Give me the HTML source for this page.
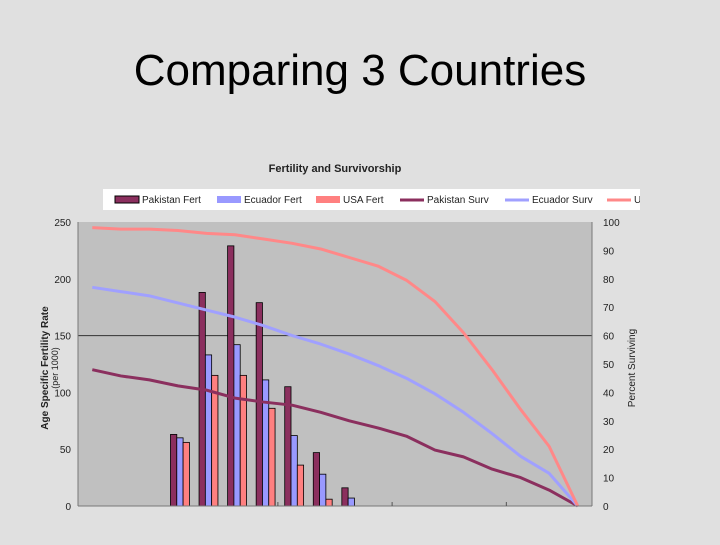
<!DOCTYPE html>
<html><head><meta charset="utf-8"><style>
body{margin:0;background:#e0e0e0;width:720px;height:540px;overflow:hidden;font-family:"Liberation Sans",sans-serif}
</style></head><body>
<svg width="720" height="540" xmlns="http://www.w3.org/2000/svg">
<rect width="720" height="540" fill="#e0e0e0"/>
<text x="360" y="85" font-size="44" text-anchor="middle" fill="#000">Comparing 3 Countries</text>
<text x="335" y="172" font-size="11" font-weight="bold" text-anchor="middle" fill="#222">Fertility and Survivorship</text>
<g id="legend"></g>
<rect x="78" y="222" width="514" height="284" fill="#c0c0c0"/>
<g id="grid"></g><g id="bars"></g><g id="lines"></g><g id="axes"></g>
<text transform="translate(48,368) rotate(-90)" font-size="10" font-weight="bold" text-anchor="middle" fill="#222">Age Specific Fertility Rate</text>
<text transform="translate(58,368) rotate(-90)" font-size="9" text-anchor="middle" fill="#222">(per 1000)</text>
<text transform="translate(635,368) rotate(-90)" font-size="10" text-anchor="middle" fill="#222">Percent Surviving</text>
</svg>
<script>
const nCats = 18;
const pakFert = [0,0,0,63,188,229,179,105,47,16,0,0,0,0,0,0,0,0];
const ecuFert = [0,0,0,60,133,142,111,62,28,7,0,0,0,0,0,0,0,0];
const usaFert = [0,0,0,56,115,115,86,36,6,0,0,0,0,0,0,0,0,0];
const pakSurv = [48,45.8,44.4,42.3,40.8,38,36.6,35.5,33,30,27.5,24.6,19.7,17.3,13,10,5.6,0];
const ecuSurv = [77,75.5,74,71.5,69,66.5,63.5,60,57,53.5,49.5,45,39.5,33,25.5,17.5,11.5,0];
const usaSurv = [98,97.5,97.5,97,96,95.5,94,92.5,90.5,87.5,84.5,79.5,72,61,48,34,21,0];
const leftTicks = [0,50,100,150,200,250];
const rightTicks = [0,10,20,30,40,50,60,70,80,90,100];
const legendLabels = ["Pakistan Fert","Ecuador Fert","USA Fert","Pakistan Surv","Ecuador Surv","USA Surv"];

const NS="http://www.w3.org/2000/svg";
const X0=78,X1=592,Y0=506,Y1=222;
const cw=(X1-X0)/nCats;
const xc=i=>X0+cw*(i+0.5);
const yL=v=>Y0-(v/250)*(Y0-Y1);
const yR=v=>Y0-(v/100)*(Y0-Y1);
function mk(tag,attrs,parent){const e=document.createElementNS(NS,tag);for(const k in attrs)e.setAttribute(k,attrs[k]);document.getElementById(parent).appendChild(e);return e;}
const cols=["#8b2f5e","#9999ff","#ff8080"];
const lcols=["#8b2f5e","#a0a0ff","#f88"];

let g=mk('line',{x1:X0,x2:X1,y1:yL(150),y2:yL(150),stroke:'#333','stroke-width':1},'grid');



const bw=6.3;
[pakFert,ecuFert,usaFert].forEach((arr,s)=>{
  arr.forEach((v,i)=>{
    if(v<=0)return;
    const x=xc(i)-bw*1.5+s*bw+2;
    const r=mk('rect',{x:x,y:yL(v),width:bw,height:Y0-yL(v),fill:cols[s],stroke:'#000','stroke-width':0.8},'bars');
    
    
  });
});
[pakSurv,ecuSurv,usaSurv].forEach((arr,s)=>{
  const p=mk('polyline',{points:arr.map((v,i)=>xc(i)+','+yR(v)).join(' '),fill:'none',stroke:lcols[s],'stroke-width':3,'stroke-linejoin':'round'},'lines');
  
  
});
mk('line',{x1:X0,x2:X0,y1:Y1,y2:Y0,stroke:'#777'},'axes');
mk('line',{x1:X1,x2:X1,y1:Y1,y2:Y0,stroke:'#777'},'axes');
mk('line',{x1:X0,x2:X1,y1:Y0,y2:Y0,stroke:'#777'},'axes');
[7,11,15].forEach(k=>mk('line',{x1:X0+cw*k,x2:X0+cw*k,y1:Y0,y2:Y0-4,stroke:'#555'},'axes'));
leftTicks.forEach(v=>{
  const t=mk('text',{x:71,y:yL(v)+4,'font-size':10,'text-anchor':'end',fill:'#222'},'axes');
  t.textContent=v;
  
  
});
rightTicks.forEach(v=>{
  const t=mk('text',{x:603,y:yR(v)+4,'font-size':10,fill:'#222'},'axes');
  t.textContent=v;
  
  
});
mk('rect',{x:103,y:189,width:537,height:21,fill:'#fff'},'legend');
const lx=[115,217,316,400,505,607];
legendLabels.forEach((lab,i)=>{
  if(i<3){mk('rect',{x:lx[i],y:196,width:24,height:7,fill:cols[i],stroke:i==0?'#000':'none'},'legend');}
  else{mk('line',{x1:lx[i],x2:lx[i]+24,y1:200,y2:200,stroke:lcols[i-3],'stroke-width':3},'legend');}
  const t=mk('text',{x:lx[i]+27,y:203,'font-size':10,fill:'#222'},'legend');
  t.textContent=lab;
  
  
});
mk('rect',{x:640,y:185,width:80,height:30,fill:'#e0e0e0'},'legend');
</script>
</body></html>
